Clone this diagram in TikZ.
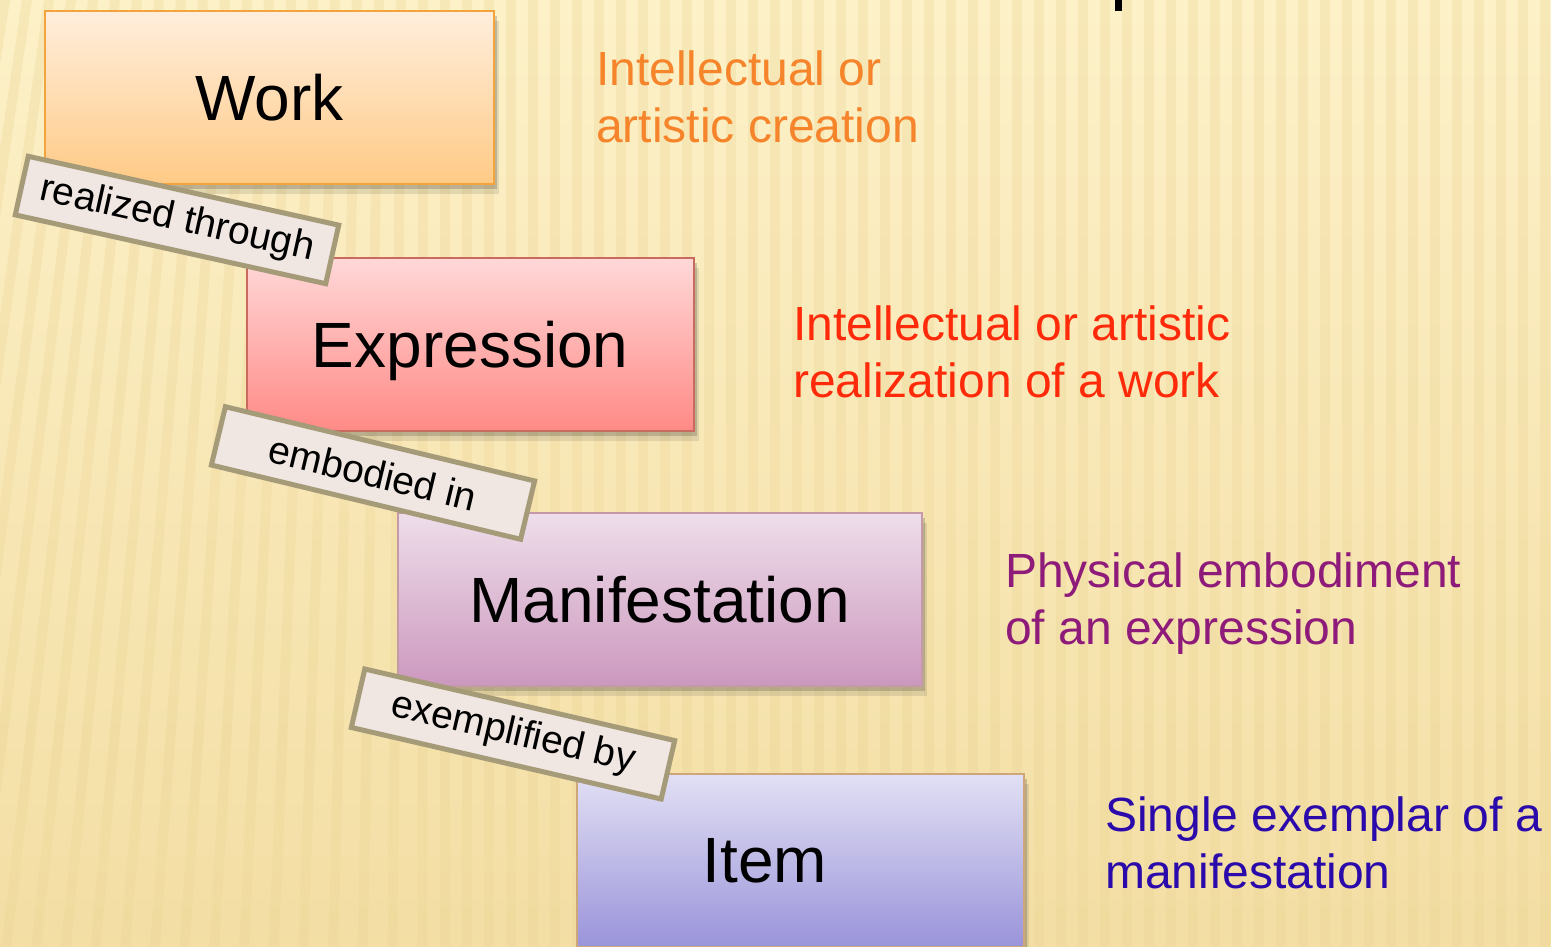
\documentclass[tikz,border=0pt]{standalone}
\usepackage{fontspec}
\setmainfont{Liberation Sans}
\usetikzlibrary{shadows}
\definecolor{PaperTop}{HTML}{FDF1C8}
\definecolor{PaperBottom}{HTML}{F3DEA4}
\definecolor{StripeColor}{HTML}{EBD494}
\definecolor{WorkTop}{HTML}{FFEEDD}
\definecolor{WorkBottom}{HTML}{FFCA86}
\definecolor{WorkEdge}{HTML}{F4A43C}
\definecolor{ExprTop}{HTML}{FFD8D8}
\definecolor{ExprBottom}{HTML}{FF8A86}
\definecolor{ExprEdge}{HTML}{C86A5E}
\definecolor{ManiTop}{HTML}{EEDEEA}
\definecolor{ManiBottom}{HTML}{CC98BE}
\definecolor{ManiEdge}{HTML}{C49AA8}
\definecolor{ItemTop}{HTML}{E2E0F4}
\definecolor{ItemBottom}{HTML}{9A94DA}
\definecolor{ItemEdge}{HTML}{CFA57A}
\definecolor{TabFill}{HTML}{F0E6E2}
\definecolor{TabEdge}{HTML}{A69B78}
\definecolor{WorkText}{HTML}{F5842A}
\definecolor{ExprText}{HTML}{FF2A0A}
\definecolor{ManiText}{HTML}{8E1A7A}
\definecolor{ItemText}{HTML}{2A0AAA}
\tikzstyle{BoxShadow}=[drop shadow={shadow xshift=3pt, shadow yshift=-5pt, opacity=0.22, fill=black!80}, drop shadow={shadow xshift=5pt, shadow yshift=-10pt, opacity=0.12, fill=black!80}]
\tikzstyle{EntityNode}=[rectangle, anchor=north west, line width=1.5pt, inner sep=0pt, minimum height=173pt, text depth=0pt, font=\fontsize{64}{72}\selectfont, BoxShadow]
\tikzstyle{WorkNode}=[EntityNode, draw=WorkEdge, top color=WorkTop, bottom color=WorkBottom]
\tikzstyle{ExprNode}=[EntityNode, draw=ExprEdge, top color=ExprTop, bottom color=ExprBottom]
\tikzstyle{ManiNode}=[EntityNode, draw=ManiEdge, top color=ManiTop, bottom color=ManiBottom]
\tikzstyle{ItemNode}=[EntityNode, draw=ItemEdge, top color=ItemTop, bottom color=ItemBottom]
\tikzstyle{RelTab}=[rectangle, draw=TabEdge, fill=TabFill, line width=5pt, inner sep=0pt, minimum width=318pt, minimum height=60pt, font=\fontsize{39}{42}\selectfont]
\tikzstyle{DescText}=[anchor=base west, align=left, inner sep=0pt, font=\fontsize{48}{57}\selectfont]

\begin{document}
\begin{tikzpicture}[x=1pt, y=1pt]
\useasboundingbox (0,-946) rectangle (1551,0);
\shade[top color=PaperTop, bottom color=PaperBottom] (0,-946) rectangle (1551,0);
\foreach \x in {0,22,...,1562}{
  \pgfmathsetmacro{\slant}{max(0,(420-\x)*0.35)}
  \fill[StripeColor, opacity=0.3] (\x,0) -- (\x+10,0) -- (\x+10-\slant,-946) -- (\x-\slant,-946) -- cycle;
}
\fill[black] (1115,0) rectangle (1122,-11);

\node[WorkNode, minimum width=449pt](WORK) at (44,-10) {Work};
\node[ExprNode, minimum width=447pt](EXPR) at (246,-257) {Expression};
\node[ManiNode, minimum width=524pt](MANI) at (397,-512) {Manifestation};
\node[ItemNode, minimum width=447pt](ITEM) at (576,-773) {Item\hspace*{71pt}};

\node[RelTab, rotate=-12.5](REAL) at (177,-220) {realized through};
\node[RelTab, rotate=-13.5](EMBO) at (373,-473) {embodied in};
\node[RelTab, rotate=-13](EXEM) at (513,-734) {exemplified by};

% base anchor sits on the second line
\node[DescText, WorkText](WORKDESC) at (596,-142) {Intellectual or\\artistic creation};
\node[DescText, ExprText](EXPRDESC) at (793,-397) {Intellectual or artistic\\realization of a work};
\node[DescText, ManiText](MANIDESC) at (1005,-644) {Physical embodiment\\of an expression};
\node[DescText, ItemText](ITEMDESC) at (1105,-888) {Single exemplar of a\\manifestation};
\end{tikzpicture}
\end{document}
